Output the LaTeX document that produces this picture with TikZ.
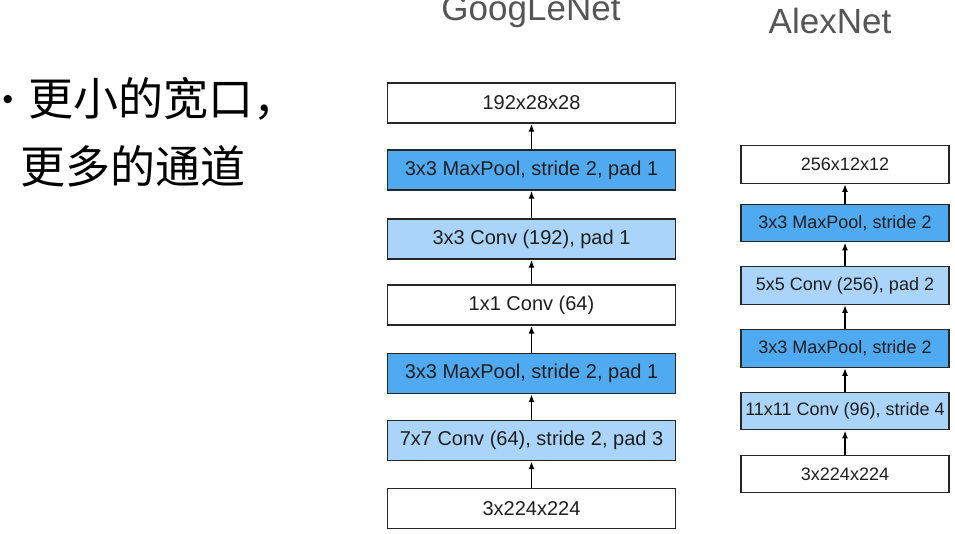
\documentclass[tikz,border=0pt]{standalone}
\usepackage{fontspec}
\setmainfont{Liberation Sans}
\newfontfamily\cjk{Noto Sans CJK SC}
\usetikzlibrary{arrows.meta}
\definecolor{darkblue}{RGB}{80,170,242}
\definecolor{lightblue}{RGB}{170,212,249}
\definecolor{titlegray}{RGB}{85,85,85}
\definecolor{txt}{RGB}{30,30,30}
\tikzset{
  layerbox/.style={draw=black!85, line width=1.4pt, inner sep=0pt, text=txt},
  gbox/.style={layerbox, minimum width=288pt, minimum height=40pt, font=\fontsize{20}{20}\selectfont},
  abox/.style={layerbox, minimum width=208pt, minimum height=37.5pt, font=\fontsize{18}{18}\selectfont},
  plain/.style={fill=white},
  pool/.style={fill=darkblue},
  conv/.style={fill=lightblue},
  flow/.style={-{Latex[length=8pt,width=6pt]}, line width=1.6pt, black},
  title/.style={text=titlegray, font=\fontsize{35}{35}\selectfont, anchor=base, inner sep=0pt},
  cjktext/.style={anchor=base west, inner sep=0pt, text=black, font=\cjk\fontsize{45}{45}\selectfont}
}
\begin{document}
\begin{tikzpicture}[x=1pt,y=1pt]
\useasboundingbox (0,0) rectangle (955,-534);
\fill[white] (0,0) rectangle (955,-534);
% titles
\node[title] (gt) at (531,-21) {GoogLeNet};
\node[title] (at) at (830,-34) {AlexNet};
% bullet text
\node[inner sep=0pt, font=\fontsize{30}{30}\selectfont] (bul) at (8,-103) {•};
\node[cjktext] (b1) at (28,-116) {更小的宽口，};
\node[cjktext] (b2) at (20,-184) {更多的通道};
% GoogLeNet column
\node[gbox,plain] (g1) at (531.5,-103) {192x28x28};
\node[gbox,pool]  (g2) at (531.5,-170) {3x3 MaxPool, stride 2, pad 1};
\node[gbox,conv]  (g3) at (531.5,-239) {3x3 Conv (192), pad 1};
\node[gbox,plain] (g4) at (531.5,-305) {1x1 Conv (64)};
\node[gbox,pool]  (g5) at (531.5,-373.5) {3x3 MaxPool, stride 2, pad 1};
\node[gbox,conv]  (g6) at (531.5,-440.5) {7x7 Conv (64), stride 2, pad 3};
\node[gbox,plain] (g7) at (531.5,-508.5) {3x224x224};
\foreach \a/\b in {g7/g6,g6/g5,g5/g4,g4/g3,g3/g2,g2/g1}
  \draw[flow] (\a.north) -- (\b.south);
% AlexNet column
\node[abox,plain] (a1) at (845,-164.5) {256x12x12};
\node[abox,pool]  (a2) at (845,-223) {3x3 MaxPool, stride 2};
\node[abox,conv]  (a3) at (845,-285.5) {5x5 Conv (256), pad 2};
\node[abox,pool]  (a4) at (845,-348.5) {3x3 MaxPool, stride 2};
\node[abox,conv]  (a5) at (845,-411) {11x11 Conv (96), stride 4};
\node[abox,plain] (a6) at (845,-474) {3x224x224};
\foreach \a/\b in {a6/a5,a5/a4,a4/a3,a3/a2,a2/a1}
  \draw[flow] (\a.north) -- (\b.south);
\end{tikzpicture}
\end{document}
